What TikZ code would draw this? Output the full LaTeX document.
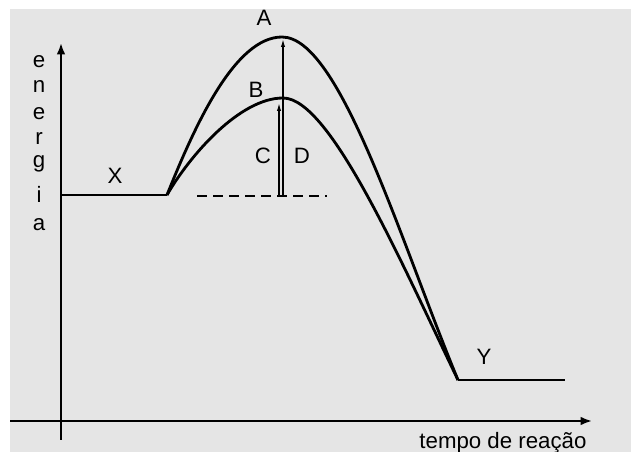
\documentclass[tikz,border=0pt]{standalone}
\usepackage{fontspec}
\setmainfont{Liberation Sans}
\usetikzlibrary{arrows.meta}
\definecolor{bggray}{HTML}{E5E5E5}

\begin{document}
\begin{tikzpicture}[
		x=0.03cm,y=-0.03cm,
		font=\fontsize{19}{22}\selectfont,
		axis/.style={line width=1.8pt,-{Latex[length=3.4mm,width=2.6mm]}},
		curve/.style={line width=2.4pt,line join=round},
		level/.style={line width=2.4pt},
		gap/.style={line width=1.1pt,-{Latex[length=2.4mm,width=1.3mm]}},
		base/.style={line width=1.3pt,dash pattern=on 3mm off 1.8mm},
		lbl/.style={inner sep=0pt}
		]
		\useasboundingbox (0,0) rectangle (631,452);
		\fill[bggray] (10,9) rectangle (631,452);

		% axes
		\coordinate (ybot) at (61,440);
		\coordinate (ytop) at (61,43);
		\coordinate (xleft) at (10,421);
		\coordinate (xright) at (592,421);
		\draw[axis] (ybot) -- (ytop);
		\draw[axis] (xleft) -- (xright);
		\node[lbl,anchor=base] (tempo) at (503,449) {tempo de reação};
		\foreach \c/\yy [count=\i] in {e/68,n/93,e/120,r/145,g/168,i/203,a/231}
			\node[lbl,anchor=base] (en\i) at (39,\yy) {\c};

		% levels and paths
		\coordinate (x0) at (61,195);
		\coordinate (ts) at (167,195);
		\coordinate (pa) at (282,37);
		\coordinate (pb) at (283,98);
		\coordinate (y0) at (458,380);
		\coordinate (y1) at (565,380);
		\draw[level] (x0) -- (ts);
		\draw[level] (y0) -- (y1);
		\draw[curve] (ts) .. controls (195,125) and (235,37) .. (pa)
			.. controls (340,37) and (400,240) .. (y0);
		\draw[curve] (ts) .. controls (190,155) and (240,98) .. (pb)
			.. controls (330,98) and (400,260) .. (y0);

		% energy gaps
		\coordinate (bl) at (197,196);
		\coordinate (br) at (327,196);
		\coordinate (cb) at (279,196);
		\coordinate (ct) at (279,103);
		\coordinate (db) at (283,196);
		\coordinate (dt) at (283,39);
		\draw[base] (bl) -- (br);
		\draw[gap] (cb) -- (ct);
		\draw[gap] (db) -- (dt);

		\node[lbl] (la) at (264,18) {A};
		\node[lbl] (lb) at (256,90) {B};
		\node[lbl] (lc) at (263,156) {C};
		\node[lbl] (ld) at (302,156) {D};
		\node[lbl] (lx) at (115,176) {X};
		\node[lbl] (ly) at (484,357) {Y};
	\end{tikzpicture}
\end{document}
